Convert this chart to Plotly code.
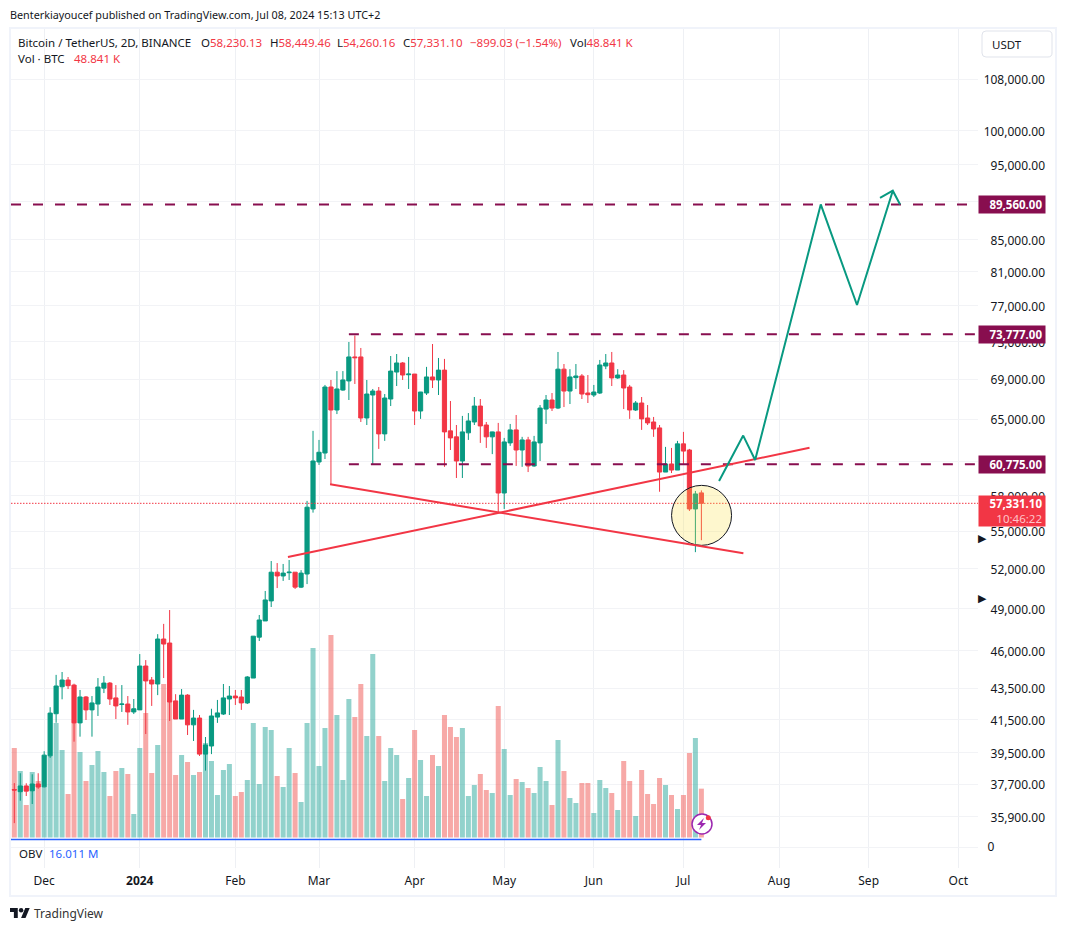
import math
import plotly.graph_objects as go

W = 1066
H = 931

# 2D candles (bar number = position on the time scale)
opens = [37400, 37280, 37600, 37330, 37710, 37550, 39330, 41880, 43600, 44040,
         43710, 41310, 42940, 42120, 42490, 43510, 43840, 42880, 42460, 42490,
         41990, 42120, 44970, 44040, 43780, 46820, 46540, 42690, 41550, 43060,
         41190, 41610, 39430, 39910, 41670, 41860, 42810, 43000, 42940, 42560,
         44170, 46950, 48100, 49560, 51730, 51440, 51690, 51730, 50590, 51590,
         56850, 60980, 61800, 68200, 65900, 67890, 68820, 71330, 71330, 65120,
         67390, 67790, 63590, 66990, 69740, 70690, 69460, 69530, 65800, 67590,
         69230, 68920, 69940, 63880, 63310, 61070, 63690, 64730, 66290, 64440,
         63310, 63780, 58220, 62740, 63970, 62080, 63020, 60620, 62740, 65990,
         66890, 66090, 70040, 67790, 69160, 69330, 67590, 67390, 67590, 70370,
         70690, 69130, 69430, 68200, 65900, 66590, 65120, 64730, 64160, 60070,
         60800, 60250, 62650, 62080, 56850, 58230.13]
highs = [37760, 38320, 37750, 38260, 38320, 39600, 42290, 44380, 44570, 44240,
         43800, 43390, 43000, 43000, 44170, 44300, 43910, 43710, 43710, 43000,
         42810, 45780, 45370, 44240, 47160, 47890, 48890, 43120, 43450, 43120,
         42120, 41800, 40450, 42190, 42750, 43780, 43650, 43390, 43390, 44300,
         47020, 48530, 50300, 52600, 52440, 52370, 52680, 51730, 51890, 57540,
         63880, 63020, 68410, 68920, 69840, 69840, 72940, 73650, 72290, 68920,
         68000, 68200, 67490, 71430, 71640, 70790, 71330, 69530, 67700, 70280,
         72720, 71220, 71120, 66790, 64440, 65320, 65600, 67190, 66990, 64730,
         63800, 64640, 63210, 64540, 65410, 63310, 63310, 63400, 66390, 67390,
         67590, 71860, 70580, 70040, 70580, 69530, 69430, 68410, 71010, 71640,
         71860, 70040, 69940, 68410, 66790, 67190, 66390, 65220, 64440, 62370,
         62270, 62930, 63780, 62180, 58400, 58449.46]
lows = [35570, 36780, 37040, 36600, 37440, 37520, 39210, 41320, 42790, 43450,
        40170, 40470, 41490, 40470, 41740, 43190, 42430, 41550, 41990, 41190,
        41860, 42120, 40630, 42370, 43060, 44170, 41430, 41550, 41550, 40570,
        40210, 39320, 38470, 39430, 41310, 41800, 41800, 42430, 42120, 42490,
        44170, 46680, 48100, 49110, 50520, 51060, 51130, 50450, 50520, 50820,
        56540, 60710, 61250, 58920, 65500, 67820, 66890, 68510, 64730, 64440,
        60710, 62180, 62930, 66290, 68300, 68920, 68000, 64440, 65030, 67390,
        68100, 67390, 60540, 62080, 59540, 59540, 63020, 64440, 62740, 62270,
        61700, 56540, 56850, 62460, 60620, 60540, 60070, 60540, 61070, 64540,
        65800, 65990, 66190, 66490, 68000, 66990, 66590, 67190, 67490, 70040,
        68300, 69030, 65990, 65030, 65800, 63970, 64440, 63310, 58330, 60070,
        59980, 60250, 60710, 56680, 53300, 54260.16]
closes = [37370, 37600, 37310, 37710, 37540, 39370, 41920, 43650, 44040, 43670,
          41310, 42940, 42120, 42560, 43580, 43840, 42810, 42370, 42490, 41990,
          42190, 44970, 43980, 43780, 46820, 46470, 42620, 41550, 43060, 41190,
          41610, 39430, 39970, 41740, 41930, 42880, 43000, 42880, 42560, 44240,
          47020, 48170, 49630, 51730, 51440, 51660, 51730, 50590, 51660, 57000,
          61070, 61870, 68200, 65900, 68000, 68920, 71330, 71250, 65120, 67490,
          67790, 63590, 67090, 69840, 70690, 69430, 69530, 65800, 67690, 69230,
          68920, 69940, 63780, 63210, 61070, 63780, 64830, 66290, 64350, 63310,
          63780, 58220, 62830, 63970, 62080, 63020, 60620, 62830, 66090, 66890,
          66090, 70040, 67790, 69230, 69330, 67490, 67420, 67690, 70480, 70690,
          69130, 69430, 68100, 65900, 66590, 65030, 64640, 64060, 60070, 60800,
          60250, 62650, 61980, 56850, 58140, 57331.10]
# thousands of BTC
volumes = [89.5, 66.5, 32.5, 65.5, 56.5, 51, 81.8, 114.5, 87.5, 43.5,
           114.5, 85.5, 56.5, 72.5, 86.5, 65.5, 41.5, 66.5, 69.5, 63.5,
           23.5, 89.5, 124.5, 64.5, 92.5, 153.5, 136, 62.5, 82.5, 75.5,
           62.5, 65.5, 94.5, 76.5, 42.5, 67.5, 73.5, 41.5, 45.5, 57.5,
           114.5, 53.5, 110.5, 107.5, 61.5, 50.5, 89.5, 64.5, 35.5, 114.5,
           189.5, 71.5, 109.5, 202.5, 122.5, 57.5, 138.5, 120.5, 153.5, 101.5,
           183.5, 101.5, 56.5, 89.5, 82.5, 38.5, 59.5, 107.5, 77.5, 41.5,
           82.5, 71.5, 122.5, 110.5, 100.5, 109.5, 41.5, 52.5, 63.5, 47.5,
           44.5, 131.5, 88.5, 42.5, 58.5, 55.5, 49.5, 44.5, 70.5, 56.5,
           32.5, 97.5, 66.5, 39.5, 34.5, 54.5, 54.5, 24.5, 57.5, 49.5,
           44.5, 27.5, 76.5, 56.5, 21.5, 67.5, 43.5, 33.5, 59.5, 52.5,
           42.5, 28.5, 42.5, 84.5, 99.5, 48.841]

month_bars = [5, 21, 37, 51, 67, 82, 97, 112, 128, 143, 158]
month_labels = ["Dec", "<b>2024</b>", "Feb", "Mar", "Apr", "May", "Jun", "Jul", "Aug", "Sep", "Oct"]
price_ticks = [108000, 100000, 95000, 90000, 85000, 81000, 77000, 73000, 69000, 65000, 61000,
               58000, 55000, 52000, 49000, 46000, 43500, 41500, 39500, 37700, 35900]

top_level = 89560
mid_level = 73777
low_level = 60775
last_price = 57331.10

# hand drawn lines on the chart
fall_x = [52.85, 122.03]
fall_y = [58980, 53210]
rise_x = [45.8, 133.1]
rise_y = [52920, 62290]
path_x = [117.96, 122.0, 124.0, 134.98, 141.05, 147.04]
path_y = [59270, 63430, 61160, 89560, 77080, 91410]
head_x = [144.9, 147.04, 148.26]
head_y = [90430, 91410, 89560]
circle_x = [115.03]
circle_y = [56310]
obv_x = [-0.6, 115]
obv_y = [16.011, 16.011]

GREEN = "#089981"
RED = "#F23645"
PURPLE = "#880E4F"
TEXT = "#131722"
GRID = "#f2f3f6"
FONT = "Noto Sans"

bars = list(range(len(closes)))
left_bar = -0.552
right_bar = 161.3


def px(x):
    return x / W


def py(y):
    return 1 - y / H


vol_colors = ["rgba(38,166,154,0.5)" if c >= o else "rgba(239,83,80,0.5)" for o, c in zip(opens, closes)]

fig = go.Figure()
fig.add_trace(go.Bar(x=bars, y=volumes, marker_color=vol_colors, marker_line_width=0, width=0.84, yaxis="y"))
fig.add_trace(go.Scatter(x=obv_x, y=obv_y, mode="lines", line=dict(color="#2962FF", width=1.5), yaxis="y3"))
fig.add_trace(go.Candlestick(x=bars, open=opens, high=highs, low=lows, close=closes, yaxis="y2",
                             increasing=dict(line=dict(color=GREEN, width=1), fillcolor=GREEN),
                             decreasing=dict(line=dict(color=RED, width=1), fillcolor=RED),
                             whiskerwidth=0))

fig.add_trace(go.Scatter(x=[left_bar, right_bar], y=[last_price, last_price], mode="lines", yaxis="y2",
                         line=dict(color=RED, width=1, dash="1.5px,1.5px")))
fig.add_trace(go.Scatter(x=circle_x, y=circle_y, mode="markers", yaxis="y2",
                         marker=dict(size=60, color="rgba(251,225,60,0.25)", line=dict(color="#131722", width=1))))
fig.add_trace(go.Scatter(x=[left_bar, right_bar], y=[top_level, top_level], mode="lines", yaxis="y2",
                         line=dict(color=PURPLE, width=2, dash="10px,12px")))
for level in [mid_level, low_level]:
    fig.add_trace(go.Scatter(x=[56.0, right_bar], y=[level, level], mode="lines", yaxis="y2",
                             line=dict(color=PURPLE, width=2, dash="10px,12px")))
fig.add_trace(go.Scatter(x=fall_x, y=fall_y, mode="lines", yaxis="y2", line=dict(color=RED, width=2)))
fig.add_trace(go.Scatter(x=rise_x, y=rise_y, mode="lines", yaxis="y2", line=dict(color=RED, width=2)))
fig.add_trace(go.Scatter(x=path_x, y=path_y, mode="lines", yaxis="y2", line=dict(color=GREEN, width=2)))
fig.add_trace(go.Scatter(x=head_x, y=head_y, mode="lines", yaxis="y2", line=dict(color=GREEN, width=2)))

notes = []


def note(x, y, text, color=TEXT, size=11.5):
    notes.append(dict(x=px(x), y=py(y), xref="paper", yref="paper", text=text, showarrow=False,
                      xanchor="left", yanchor="middle", align="left",
                      font=dict(family=FONT, size=size, color=color)))


note(8, 15, "Benterkiayoucef published on TradingView.com, Jul 08, 2024 15:13 UTC+2", size=10.8)
note(16, 42, "Bitcoin / TetherUS, 2D, BINANCE")
note(199, 42, "O<span style='color:#F23645'>58,230.13</span>")
note(268, 42, "H<span style='color:#F23645'>58,449.46</span>")
note(335, 42, "L<span style='color:#F23645'>54,260.16</span>")
note(401, 42, "C<span style='color:#F23645'>57,331.10</span>")
note(468, 42, "−899.03 (−1.54%)", RED)
note(568, 42, "Vol<span style='color:#F23645'>48.841 K</span>")
note(16, 59, "Vol · BTC")
note(72, 59, "48.841 K", RED)
note(17, 853, "OBV")
note(47, 853, "16.011 M", "#2962FF")
note(990, 45, "USDT")
note(32, 913, "TradingView", "#333333", 12)
note(975.5, 537, "▶", TEXT, 11)
note(975.5, 597, "▶", TEXT, 11)

# price labels on the scale
for level, label in [(top_level, "89,560.00"), (mid_level, "73,777.00"), (low_level, "60,775.00")]:
    notes.append(dict(x=px(977.5), y=math.log10(level), xref="paper", yref="y2",
                      text="<b>" + label + "</b>&nbsp;",
                      showarrow=False, xanchor="left", yanchor="middle", align="right",
                      width=66, height=17, bgcolor=PURPLE, borderpad=0,
                      font=dict(family=FONT, size=11.5, color="white")))
notes.append(dict(x=px(977.5), y=py(511.5), xref="paper", yref="paper",
                  text="<b>57,331.10</b>&nbsp;<br><span style='color:#ffc4c9'>10:46:22</span>&nbsp;",
                  showarrow=False, xanchor="left", yanchor="middle", align="right",
                  width=66, height=30, bgcolor=RED, borderpad=0,
                  font=dict(family=FONT, size=11.5, color="white")))

# frame, scale box and the two small icons
shapes = [
    dict(type="rect", xref="paper", yref="paper", x0=px(10), x1=px(1056), y0=py(28), y1=py(896),
         line=dict(color="#f0f3fa", width=2), layer="above"),
    dict(type="path", xref="paper", yref="paper", layer="above", line=dict(color="#e0e3eb", width=1),
         path="M %f %f L %f %f Q %f %f %f %f L %f %f Q %f %f %f %f L %f %f Q %f %f %f %f L %f %f Q %f %f %f %f Z" % (
             px(986), py(31), px(1048), py(31), px(1052), py(31), px(1052), py(35),
             px(1052), py(53), px(1052), py(57), px(1048), py(57),
             px(986), py(57), px(982), py(57), px(982), py(53),
             px(982), py(35), px(982), py(31), px(986), py(31))),
    dict(type="circle", xref="paper", yref="paper", x0=px(692), x1=px(712), y0=py(814), y1=py(834),
         fillcolor="white", line=dict(color="#9C27B0", width=1.5), layer="above"),
    dict(type="path", xref="paper", yref="paper", fillcolor="#9C27B0", line_width=0, layer="above",
         path="M %f %f L %f %f L %f %f L %f %f L %f %f L %f %f Z" % (
             px(704), py(818), px(697), py(825), px(701), py(825),
             px(699), py(830), px(706), py(823), px(702), py(823))),
    dict(type="circle", xref="paper", yref="paper", x0=px(705.8), x1=px(710.8), y0=py(815.2), y1=py(820.2),
         fillcolor=RED, line_width=0, layer="above"),
]


def logo(u, v):
    return "%f %f" % (px(10 + 0.555 * u), py(908 + 0.555 * (v - 4)))


shapes.append(dict(type="path", xref="paper", yref="paper", fillcolor="#131722", line_width=0,
                   path="M" + logo(14, 22) + " L" + logo(7, 22) + " L" + logo(7, 11) + " L" + logo(0, 11)
                        + " L" + logo(0, 4) + " L" + logo(14, 4) + " Z"))
shapes.append(dict(type="path", xref="paper", yref="paper", fillcolor="#131722", line_width=0,
                   path="M" + logo(28, 22) + " L" + logo(20, 22) + " L" + logo(27.5, 4) + " L" + logo(35.5, 4) + " Z"))
shapes.append(dict(type="circle", xref="paper", yref="paper", fillcolor="#131722", line_width=0,
                   x0=px(10 + 0.555 * 16), x1=px(10 + 0.555 * 24), y0=py(908 + 0.555 * 8), y1=py(908)))

price_domain = [py(838), py(28)]
fig.update_layout(
    width=W, height=H, autosize=False,
    margin=dict(l=0, r=0, t=0, b=0),
    paper_bgcolor="white", plot_bgcolor="white",
    showlegend=False, boxmode="overlay", boxgap=0.3, boxgroupgap=0,
    annotations=notes, shapes=shapes,
    xaxis=dict(domain=[px(11), px(978)], range=[left_bar, right_bar], anchor="y3",
               tickmode="array", tickvals=month_bars, ticktext=month_labels,
               showgrid=True, gridcolor="#eef0f4", gridwidth=1, zeroline=False,
               showline=False, ticks="outside", ticklen=2, tickcolor="rgba(0,0,0,0)",
               tickfont=dict(family=FONT, size=12, color=TEXT), rangeslider=dict(visible=False)),
    yaxis=dict(domain=price_domain, range=[-0.5, 809.5], visible=False, fixedrange=True),
    yaxis2=dict(domain=price_domain, type="log", range=[4.54145, 5.06649], overlaying="y",
                anchor="free", position=px(1045), side="left",
                tickmode="array", tickvals=price_ticks, tickformat=",.2f",
                showgrid=True, gridcolor=GRID, gridwidth=1, zeroline=False, showline=False,
                ticks="", ticklabelshift=1, tickfont=dict(family=FONT, size=12, color=TEXT)),
    yaxis3=dict(domain=[py(868), py(838)], range=[-44.8, 19.2], side="right", anchor="x",
                tickmode="array", tickvals=[0], ticktext=["0"], showgrid=True, gridcolor=GRID,
                zeroline=False, showline=False, ticks="outside", ticklen=6, tickcolor="rgba(0,0,0,0)",
                tickfont=dict(family=FONT, size=12, color=TEXT)),
)

fig.write_html("out.html", config=dict(displayModeBar=False), post_script="document.body.style.margin='0';")
